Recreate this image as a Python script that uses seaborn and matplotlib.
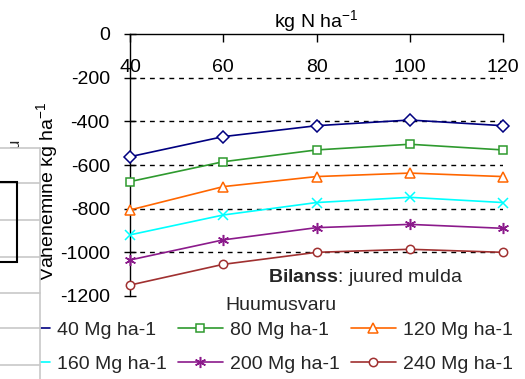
import pandas as pd
import matplotlib
matplotlib.use("Agg")
import matplotlib.pyplot as plt
import seaborn as sns
from matplotlib.patches import Rectangle
from matplotlib.lines import Line2D

# N rate (kg N/ha) and humus loss per humus stock level
n_rate = [40, 60, 80, 100, 120]
humus = ["40 Mg ha-1", "80 Mg ha-1", "120 Mg ha-1",
         "160 Mg ha-1", "200 Mg ha-1", "240 Mg ha-1"]
loss_40 = [-562, -470, -420, -394, -420]
loss_80 = [-676, -585, -531, -505, -531]
loss_120 = [-806, -699, -653, -637, -653]
loss_160 = [-920, -829, -772, -748, -772]
loss_200 = [-1035, -943, -887, -872, -890]
loss_240 = [-1150, -1055, -1000, -986, -1000]
y_ticks = [0, -200, -400, -600, -800, -1000, -1200]
grid_levels = [-200, -400, -600, -800, -1000]

colors = ["#000080", "#2E9A2E", "#FF6600", "#00FFFF", "#8B1A8B", "#A03030"]
markers = ["D", "s", "^", "x", (6, 2, 0), "o"]
msizes = [6.5, 6, 7, 7, 8, 6]
hollow = [True, True, True, False, False, True]

rows = []
for name, vals in zip(humus, [loss_40, loss_80, loss_120, loss_160, loss_200, loss_240]):
    for n, v in zip(n_rate, vals):
        rows.append({"N": n, "loss": v, "humus": name})
df = pd.DataFrame(rows)

sns.set_theme(style="white")
plt.rcParams["font.family"] = ["Liberation Sans", "DejaVu Sans"]
plt.rcParams["axes.unicode_minus"] = False
plt.rcParams["mathtext.fontset"] = "custom"
plt.rcParams["mathtext.rm"] = "Liberation Sans"
plt.rcParams["mathtext.bf"] = "Liberation Sans:bold"

W, H = 525, 379
fig = plt.figure(figsize=(W / 100, H / 100), dpi=100)
ax = fig.add_axes([130 / W, 1 - 296 / H, 373 / W, 262 / H])

for lv in grid_levels:
    ax.axhline(lv, color="black", lw=1, ls=(0, (3.5, 3.5)), zorder=1)

sns.lineplot(data=df, x="N", y="loss", hue="humus", hue_order=humus,
             palette=colors, legend=False, ax=ax, linewidth=1.2, zorder=3)

lines = ax.get_lines()[len(grid_levels):]
for line, c, m, ms, hol in zip(lines, colors, markers, msizes, hollow):
    line.set_color(c)
    line.set_marker(m)
    line.set_markersize(ms)
    line.set_markeredgecolor(c)
    line.set_markeredgewidth(1.1)
    line.set_markerfacecolor("white" if hol else c)
    line.set_clip_on(False)

ax.set_xlim(40, 120)
ax.set_ylim(-1200, 0)
ax.set_xticks(n_rate)
ax.set_yticks(y_ticks)
ax.set_yticklabels([str(t) for t in y_ticks])
for s in ["bottom", "right"]:
    ax.spines[s].set_visible(False)
for s in ["top", "left"]:
    ax.spines[s].set_color("black")
    ax.spines[s].set_linewidth(1)

ax.xaxis.set_ticks_position("top")
ax.xaxis.set_label_position("top")
ax.tick_params(axis="x", top=True, bottom=False, labeltop=True, labelbottom=False,
               direction="in", length=6, width=1, color="black",
               pad=-30, labelsize=14, labelcolor="black")
ax.tick_params(axis="y", left=True, direction="inout", length=9, width=1,
               color="black", pad=10, labelsize=14, labelcolor="black")
ax.set_xlabel("kg N ha$^{-1}$", fontsize=14, labelpad=4, color="black")
ax.set_ylabel("Vähenemine kg ha$^{-1}$", fontsize=14, color="black")
ax.yaxis.set_label_coords(-0.186, 0.4)

# legend, row-major order as in the original
order = [0, 3, 1, 4, 2, 5]
ax.legend([lines[i] for i in order], [humus[i] for i in order], ncol=3,
          loc="upper left", bbox_to_anchor=(5 / W, 1 - 321 / H),
          bbox_transform=fig.transFigure, frameon=False, fontsize=14,
          borderpad=0, borderaxespad=0, handlelength=2.3, handletextpad=0.35,
          columnspacing=0.6, labelspacing=0.85)

fig.text(268 / W, 1 - 277 / H, r"$\mathbf{Bilanss}$: juured mulda",
         fontsize=14, va="center", ha="left")
fig.text(225 / W, 1 - 305 / H, "Huumusvaru", fontsize=14, va="center", ha="left")

# neighbouring sheet cells covering the left edge
fig.add_artist(Rectangle((0, 0), 40 / W, 1 - 148 / H, transform=fig.transFigure,
                         facecolor="white", edgecolor="none", zorder=10))
for yy in [148, 183, 220, 257, 293, 328, 365]:
    fig.add_artist(Line2D([0, 40 / W], [1 - yy / H] * 2, transform=fig.transFigure,
                          color="#C8C8C8", lw=1.2, zorder=11))
fig.add_artist(Line2D([40 / W] * 2, [0, 1 - 148 / H], transform=fig.transFigure,
                      color="#C8C8C8", lw=1.2, zorder=11))
fig.add_artist(Rectangle((-0.01, 1 - 262 / H), 17 / W + 0.01, 80 / H,
                         transform=fig.transFigure, facecolor="none",
                         edgecolor="black", lw=1.5, zorder=12))
fig.text(14 / W, 1 - 143 / H, "u", fontsize=12, rotation=90, ha="center", va="center")

fig.savefig("out.png", dpi=100)
